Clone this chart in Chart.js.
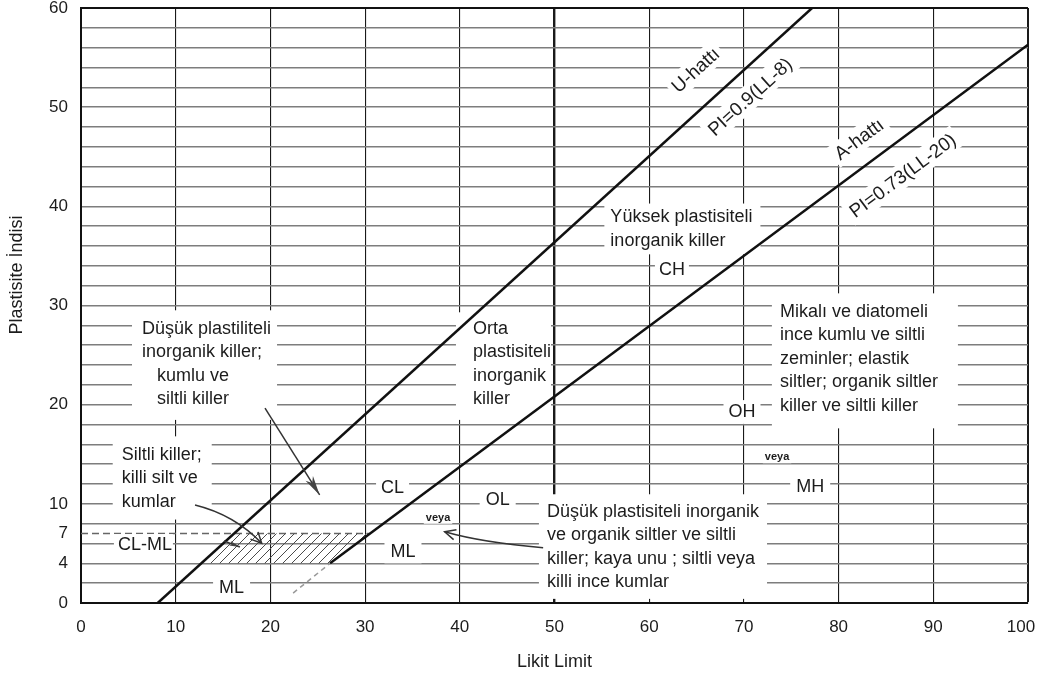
<!DOCTYPE html>
<html>
<head>
<meta charset="utf-8">
<script src="https://cdn.jsdelivr.net/npm/chart.js@4.4.1/dist/chart.umd.min.js"></script>
<style>
  html, body { margin: 0; background: #fff; }
</style>
</head>
<body>
<canvas id="plasticity" width="1040" height="676"></canvas>
<script>
// Plastisite kartı: Likit Limit (x) - Plastisite İndisi (y)
const llTicks = [0, 10, 20, 30, 40, 50, 60, 70, 80, 90, 100];
const piTickLabels = [0, 4, 7, 10, 20, 30, 40, 50, 60];

// U-hattı and A-hattı
const uLineLL = [8.1, 77.2];
const uLinePI = [0, 60];
const aLineLL = [26.3, 100];
const aLinePI = [4, 56.3];
const aDashLL = [22.4, 26.3];
const aDashPI = [1.0, 4];

// CL-ML hatched zone and the PI=7 dashed line
const clmlLL = [12.7, 26.3, 30.4, 16.2, 12.7];
const clmlPI = [4, 4, 7, 7, 4];
const pi7LL = [0, 30.4];
const pi7PI = [7, 7];

const FAMILY = "'Liberation Sans', Arial, sans-serif";
const INK = '#1c1c1c';

const pts = (xs, ys) => xs.map((x, i) => ({x: x, y: ys[i]}));

// region texts, placed in chart units (LL, PI)
const notes = [
  {lines: ['Düşük plastiliteli', 'inorganik killer;', 'kumlu ve', 'siltli killer'], ll: 6.44, pi: 27.63, indent: [0, 0, 15, 15], pad: [7, 6, 9, 10]},
  {lines: ['Siltli killer;', 'killi silt ve', 'kumlar'], ll: 4.3, pi: 14.92, pad: [7, 10, 6, 9]},
  {lines: ['CL-ML'], ll: 6.75, pi: 5.85, align: 'center', pad: [1, 1, 1, 4]},
  {lines: ['ML'], ll: 15.9, pi: 1.5, align: 'center', pad: [1, 6, 1, 6]},
  {lines: ['CL'], ll: 32.9, pi: 11.6, align: 'center', pad: [1, 5, 1, 5]},
  {lines: ['OL'], ll: 44.0, pi: 10.4, align: 'center', pad: [1, 6, 1, 6]},
  {lines: ['veya'], ll: 37.7, pi: 8.6, align: 'center', size: 11, bold: true, pad: [0, 2, 0, 2]},
  {lines: ['ML'], ll: 34.0, pi: 5.1, align: 'center', pad: [1, 6, 1, 6]},
  {lines: ['Düşük plastisiteli inorganik', 've organik siltler ve siltli', 'killer; kaya unu ; siltli veya', 'killi ince kumlar'], ll: 49.2, pi: 9.18, pad: [6, 8, 5, 8]},
  {lines: ['Orta', 'plastisiteli', 'inorganik', 'killer'], ll: 41.39, pi: 27.63, pad: [5, 0, 9, 17]},
  {lines: ['Yüksek plastisiteli', 'inorganik killer'], ll: 55.9, pi: 38.9, pad: [2, 8, 2, 6]},
  {lines: ['CH'], ll: 62.4, pi: 33.6, align: 'center', pad: [1, 4, 1, 4]},
  {lines: ['Mikalı ve diatomeli', 'ince kumlu ve siltli', 'zeminler; elastik', 'siltler; organik siltler', 'killer ve siltli killer'], ll: 73.8, pi: 29.34, pad: [7, 20, 11, 8]},
  {lines: ['OH'], ll: 69.8, pi: 19.26, align: 'center', pad: [2, 5, 2, 5]},
  {lines: ['veya'], ll: 73.5, pi: 14.7, align: 'center', size: 11, bold: true, pad: [0, 2, 0, 2]},
  {lines: ['MH'], ll: 77.0, pi: 11.7, align: 'center', pad: [1, 6, 1, 6]}
];

// labels written along the lines (on = dataset index of the line)
const lineLabels = [
  {text: 'U-hattı', ll: 64.89, pi: 53.75, on: 0},
  {text: 'PI=0.9(LL-8)', ll: 70.64, pi: 51.05, on: 0},
  {text: 'A-hattı', ll: 82.15, pi: 46.79, on: 1},
  {text: 'PI=0.73(LL-20)', ll: 86.75, pi: 43.11, on: 1}
];

const arrows = [
  {from: [19.43, 19.66], to: [25.2, 10.9], head: 'solid'},
  {from: [12.04, 9.88], via: [16.2, 8.9], to: [19.08, 6.02], head: 'open'},
  {from: [15.1, 6.25], to: [16.78, 5.65], head: 'solid', small: true},
  {from: [48.8, 5.58], via: [42.4, 6.1], to: [38.4, 7.19], head: 'open'}
];

function hatch() {
  const c = document.createElement('canvas');
  c.width = 9; c.height = 9;
  const g = c.getContext('2d');
  g.strokeStyle = '#4a4a4a';
  g.lineWidth = 1;
  g.beginPath();
  g.moveTo(0, 9); g.lineTo(9, 0);
  g.moveTo(-1, 1); g.lineTo(1, -1);
  g.moveTo(8, 10); g.lineTo(10, 8);
  g.stroke();
  return g.createPattern(c, 'repeat');
}

function noteGeom(chart, n) {
  const ctx = chart.ctx, x = chart.scales.x, y = chart.scales.y;
  const size = n.size || 18;
  const lh = n.lines.length > 1 ? 23.4 : size * 1.1;
  ctx.font = (n.bold ? 'bold ' : '') + size + 'px ' + FAMILY;
  const px = x.getPixelForValue(n.ll), py = y.getPixelForValue(n.pi);
  const ind = n.indent || [];
  let w = 0;
  n.lines.forEach((t, i) => { w = Math.max(w, ctx.measureText(t).width + (ind[i] || 0)); });
  const left = n.align === 'center' ? px - w / 2 : px;
  return {size, lh, px, py, left, top: py - lh / 2, w, h: lh * n.lines.length, ind};
}

function lineAngle(chart, idx) {
  const d = chart.getDatasetMeta(idx).data;
  const a = d[0], b = d[d.length - 1];
  return Math.atan2(b.y - a.y, b.x - a.x);
}

let boxesDone = false;
const annotate = {
  id: 'annotate',
  beforeDraw() { boxesDone = false; },
  beforeDatasetDraw(chart, args) {
    // white boxes go over the grid and the PI=7 dash, under the A/U lines
    if (boxesDone || args.meta.order > 3) return;
    boxesDone = true;
    const ctx = chart.ctx;
    ctx.save();
    ctx.fillStyle = '#fff';
    notes.forEach(n => {
      const g = noteGeom(chart, n), p = n.pad;
      ctx.fillRect(g.left - p[3], g.top - p[0], g.w + p[1] + p[3], g.h + p[0] + p[2]);
    });
    ctx.font = '19px ' + FAMILY;
    lineLabels.forEach(l => {
      const w = ctx.measureText(l.text).width + 8;
      ctx.save();
      ctx.translate(chart.scales.x.getPixelForValue(l.ll), chart.scales.y.getPixelForValue(l.pi));
      ctx.rotate(lineAngle(chart, l.on));
      ctx.fillRect(-w / 2, -12, w, 24);
      ctx.restore();
    });
    ctx.restore();
  },
  afterDatasetsDraw(chart) {
    const ctx = chart.ctx, x = chart.scales.x, y = chart.scales.y;
    ctx.save();
    ctx.fillStyle = INK;
    ctx.textBaseline = 'middle';
    notes.forEach(n => {
      const g = noteGeom(chart, n);
      ctx.textAlign = n.align === 'center' ? 'center' : 'left';
      n.lines.forEach((t, i) => {
        const tx = n.align === 'center' ? g.px : g.left + (g.ind[i] || 0);
        ctx.fillText(t, tx, g.py + i * g.lh);
      });
    });
    ctx.font = '19px ' + FAMILY;
    ctx.textAlign = 'center';
    lineLabels.forEach(l => {
      ctx.save();
      ctx.translate(x.getPixelForValue(l.ll), y.getPixelForValue(l.pi));
      ctx.rotate(lineAngle(chart, l.on));
      ctx.fillText(l.text, 0, 1);
      ctx.restore();
    });

    // arrows
    ctx.strokeStyle = '#333';
    ctx.fillStyle = '#444';
    ctx.lineWidth = 1.5;
    arrows.forEach(a => {
      const f = [x.getPixelForValue(a.from[0]), y.getPixelForValue(a.from[1])];
      const t = [x.getPixelForValue(a.to[0]), y.getPixelForValue(a.to[1])];
      const v = a.via ? [x.getPixelForValue(a.via[0]), y.getPixelForValue(a.via[1])] : f;
      ctx.beginPath();
      ctx.moveTo(f[0], f[1]);
      if (a.via) ctx.quadraticCurveTo(v[0], v[1], t[0], t[1]);
      else ctx.lineTo(t[0], t[1]);
      ctx.stroke();
      const ang = Math.atan2(t[1] - v[1], t[0] - v[0]);
      const len = a.head === 'solid' ? (a.small ? 11 : 20) : 12;
      const spread = a.head === 'solid' ? 0.22 : 0.45;
      const p1 = [t[0] - len * Math.cos(ang - spread), t[1] - len * Math.sin(ang - spread)];
      const p2 = [t[0] - len * Math.cos(ang + spread), t[1] - len * Math.sin(ang + spread)];
      ctx.beginPath();
      ctx.moveTo(p1[0], p1[1]);
      ctx.lineTo(t[0], t[1]);
      ctx.lineTo(p2[0], p2[1]);
      if (a.head === 'solid') {
        const m = [t[0] - len * 0.7 * Math.cos(ang), t[1] - len * 0.7 * Math.sin(ang)];
        ctx.lineTo(m[0], m[1]);
        ctx.closePath();
        ctx.fill();
      } else {
        ctx.stroke();
      }
    });

    // y axis title
    ctx.fillStyle = INK;
    ctx.font = '18px ' + FAMILY;
    ctx.translate(17, 275);
    ctx.rotate(-Math.PI / 2);
    ctx.fillText('Plastisite İndisi', 0, 0);
    ctx.restore();
  }
};

const line = (xs, ys, extra) => Object.assign({
  data: pts(xs, ys), showLine: true, pointRadius: 0, tension: 0, fill: false
}, extra);

new Chart(document.getElementById('plasticity'), {
  type: 'scatter',
  data: {
    datasets: [
      line(uLineLL, uLinePI, {borderColor: '#111', borderWidth: 2.5, order: 1}),
      line(aLineLL, aLinePI, {borderColor: '#111', borderWidth: 2.5, order: 2}),
      line(aDashLL, aDashPI, {borderColor: '#999', borderWidth: 1.5, borderDash: [5, 4], order: 3}),
      line(clmlLL, clmlPI, {borderColor: 'rgba(0,0,0,0)', borderWidth: 0, fill: 'shape', backgroundColor: hatch(), order: 4}),
      line(pi7LL, pi7PI, {borderColor: '#666', borderWidth: 1.5, borderDash: [7, 4], order: 5})
    ]
  },
  options: {
    responsive: false,
    animation: false,
    devicePixelRatio: 1,
    layout: {padding: {left: 0, right: 12, top: 8, bottom: 0}},
    plugins: {legend: {display: false}, tooltip: {enabled: false}},
    scales: {
      x: {
        type: 'linear', min: 0, max: 100,
        afterBuildTicks: s => { s.ticks = llTicks.map(v => ({value: v})); },
        afterFit: s => { s.height = 73; s.paddingLeft = 0; s.paddingRight = 0; },
        ticks: {
          color: INK, padding: 14, maxRotation: 0, font: {size: 17, family: FAMILY},
          // keep the last label inside the canvas
          callback: v => v === 100 ? '100   ' : v
        },
        grid: {
          drawTicks: false,
          color: '#1a1a1a',
          lineWidth: c => c.tick.value === 50 ? 2.4 : (c.tick.value === 100 ? 2 : 1.1)
        },
        border: {color: '#111', width: 2},
        title: {display: true, text: 'Likit Limit', color: INK, font: {size: 18, family: FAMILY}, padding: {top: 0, bottom: 3}}
      },
      y: {
        type: 'linear', min: 0, max: 60,
        afterBuildTicks: s => {
          const t = [];
          for (let v = 0; v <= 60; v += 2) {
            t.push({value: v});
            if (v === 6) t.push({value: 7});
          }
          s.ticks = t;
        },
        afterFit: s => { s.width = 81; s.paddingTop = 0; s.paddingBottom = 0; },
        ticks: {
          autoSkip: false, color: INK, padding: 13, font: {size: 17, family: FAMILY},
          callback: v => piTickLabels.includes(v) ? v : ''
        },
        grid: {
          drawTicks: false,
          color: c => c.tick.value === 7 ? 'rgba(0,0,0,0)' : (c.tick.value === 60 ? '#111' : '#7d7d7d'),
          lineWidth: c => c.tick.value === 60 ? 2 : 1.4
        },
        border: {color: '#111', width: 2}
      }
    }
  },
  plugins: [annotate]
});
</script>
</body>
</html>
